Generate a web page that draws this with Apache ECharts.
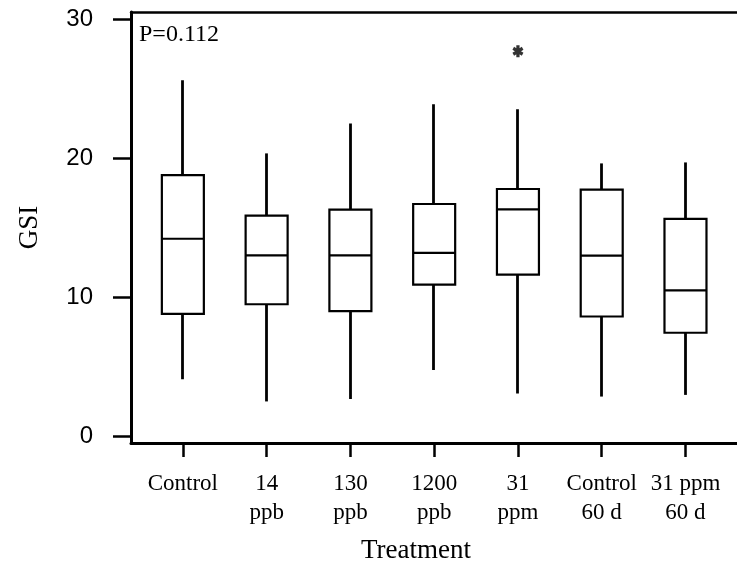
<!DOCTYPE html>
<html>
<head>
<meta charset="utf-8">
<script src="https://cdn.jsdelivr.net/npm/echarts@6/dist/echarts.min.js"></script>
<style>html,body{margin:0;padding:0;background:#fff;}#c{width:737px;height:569px;}</style>
</head>
<body>
<div id="c"></div>
<script>
// ---- data ----
var categories = ['Control', '14\nppb', '130\nppb', '1200\nppb', '31\nppm', 'Control\n60 d', '31 ppm\n60 d'];
var mins    = [4.08, 2.49, 2.67, 4.75, 3.06, 2.84, 2.96];
var q1s     = [8.79, 9.48, 8.98, 10.89, 11.61, 8.60, 7.43];
var medians = [14.19, 12.99, 12.99, 13.18, 16.31, 12.97, 10.48];
var q3s     = [18.77, 15.86, 16.29, 16.69, 17.77, 17.72, 15.62];
var maxs    = [25.60, 20.33, 22.48, 23.86, 23.50, 19.61, 19.68];
var outliers = [[4, 27.68]];
var yTicks = [0, 10, 20, 30];
var pLabel = 'P=0.112';

// ---- build ----
var catIdx = categories.map(function (c, i) { return i; });
var boxData = catIdx.map(function (i) { return [i, q1s[i], q1s[i], medians[i], q3s[i], q3s[i]]; });
var whiskerData = catIdx.map(function (i) { return [i, q1s[i], q3s[i], mins[i], maxs[i]]; });

function asteriskPath() {
  var parts = [];
  [90, 30, 150].forEach(function (deg) {
    var t = deg * Math.PI / 180, r = 5, w = 1.5;
    var dx = Math.cos(t), dy = Math.sin(t), nx = -dy, ny = dx;
    var pts = [
      [r * dx + w * nx, r * dy + w * ny],
      [r * dx - w * nx, r * dy - w * ny],
      [-r * dx - w * nx, -r * dy - w * ny],
      [-r * dx + w * nx, -r * dy + w * ny]
    ];
    parts.push('M' + pts.map(function (p) { return p[0].toFixed(3) + ' ' + p[1].toFixed(3); }).join(' L') + ' Z');
  });
  return 'path://' + parts.join(' ');
}

var serif = '"Liberation Serif", "Times New Roman", serif';
var sans = '"Liberation Sans", Arial, sans-serif';

var chart = echarts.init(document.getElementById('c'), null, { renderer: 'canvas' });
chart.setOption({
  animation: false,
  backgroundColor: '#fff',
  title: {
    text: pLabel, left: 139, top: 23, padding: 0,
    textStyle: { fontFamily: serif, fontSize: 24, fontWeight: 'normal', color: '#000' }
  },
  grid: { left: 131, right: -2, top: 12, bottom: 124, containLabel: false },
  xAxis: [{
    type: 'value', min: -0.619, max: 6.615,
    name: 'Treatment', nameLocation: 'middle', nameGap: 94,
    nameTextStyle: { fontFamily: serif, fontSize: 27, color: '#000', padding: [0, 36, 0, 0] },
    axisLine: { show: true, onZero: false, lineStyle: { color: '#000', width: 3 } },
    axisTick: { show: true, customValues: catIdx, length: 14, lineStyle: { color: '#000', width: 2.5 } },
    axisLabel: {
      customValues: catIdx, margin: 26, color: '#000',
      fontFamily: serif, fontSize: 23, lineHeight: 29,
      formatter: function (v) { return categories[Math.round(v)]; }
    },
    splitLine: { show: false }
  }, {
    type: 'value', position: 'top', min: 0, max: 1,
    axisLine: { show: true, onZero: false, lineStyle: { color: '#000', width: 2.5 } },
    axisTick: { show: false }, axisLabel: { show: false }, splitLine: { show: false }
  }],
  yAxis: {
    type: 'value', min: -0.5, max: 30.5,
    name: 'GSI', nameLocation: 'middle', nameGap: 88,
    nameTextStyle: { fontFamily: serif, fontSize: 27, color: '#000' },
    axisLine: { show: true, onZero: false, lineStyle: { color: '#000', width: 3 } },
    axisTick: { show: true, customValues: yTicks, length: 18, lineStyle: { color: '#000', width: 2.5 } },
    axisLabel: { customValues: yTicks, margin: 38, color: '#000', fontFamily: sans, fontSize: 24 },
    splitLine: { show: false }
  },
  series: [{
    type: 'candlestick',
    xAxisIndex: 0,
    data: whiskerData,
    barWidth: 1,
    itemStyle: { color: '#fff', color0: '#fff', borderColor: '#000', borderColor0: '#000', borderWidth: 2.8 },
    z: 2
  }, {
    type: 'boxplot',
    xAxisIndex: 0,
    data: boxData,
    boxWidth: [42, 42],
    itemStyle: { color: '#fff', borderColor: '#000', borderWidth: 2.2 },
    z: 3
  }, {
    type: 'scatter',
    xAxisIndex: 0,
    data: outliers,
    symbol: asteriskPath(),
    symbolSize: [11, 12],
    itemStyle: { color: '#000' },
    z: 4
  }]
});
</script>
</body>
</html>
